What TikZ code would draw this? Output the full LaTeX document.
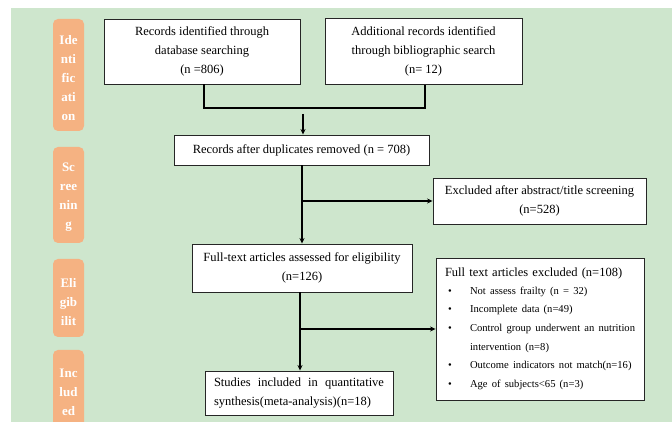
\documentclass[tikz,border=0pt]{standalone}
\usepackage{fontspec}
\setmainfont{Liberation Serif}
\usetikzlibrary{arrows.meta}
\definecolor{bggreen}{RGB}{206,230,205}
\definecolor{phase}{RGB}{245,178,130}
\newcommand{\bulitem}[1]{\mbox{\makebox[25pt][l]{\hspace{3pt}\textbullet}#1}}
\tikzset{
  box/.style={draw=black!85, line width=0.9pt, fill=white, inner sep=0pt,
    font=\fontsize{12.5}{18.8}\selectfont, align=center},
  phasebox/.style={fill=phase, rounded corners=5pt},
  phasetext/.style={text=white, font=\bfseries\fontsize{13}{19}\selectfont, align=center, inner sep=0pt},
  conn/.style={line width=1.1pt, black},
  arr/.style={conn, -{Stealth[length=5.5pt,width=5pt]}}
}
\begin{document}
\begin{tikzpicture}[x=1pt,y=1pt]
\useasboundingbox (0,0) rectangle (672,422);
\fill[white] (0,0) rectangle (672,422);
\fill[bggreen] (11,0) rectangle (672,414);
% phase labels
\begin{scope}
\clip (0,0) rectangle (672,422);
\fill[phasebox] (53,291) rectangle (84,403);
\fill[phasebox] (53,179) rectangle (84,275);
\fill[phasebox] (53,85) rectangle (84,163);
\fill[phasebox] (53,-10) rectangle (84,72);
\end{scope}
\node[phasetext] (p1) at (68.5,344) {Ide\\nti\\fic\\ati\\on};
\node[phasetext] (p2) at (68.5,225) {Sc\\ree\\nin\\g};
\node[phasetext] (p3) at (68.5,120) {Eli\\gib\\ilit};
\node[phasetext] (p4) at (68.5,30) {Inc\\lud\\ed};
% boxes
\node[box, minimum width=196pt, minimum height=65pt] (b1) at (202,370.5)
  {Records identified through\\database searching\\(n =806)};
\node[box, minimum width=197pt, minimum height=66pt] (b2) at (423.5,370.5)
  {Additional records identified\\through bibliographic search\\(n= 12)};
\node[box, minimum width=255pt, minimum height=30pt] (b3) at (301.5,272)
  {Records after duplicates removed (n = 708)};
\node[box, minimum width=213pt, minimum height=46pt] (b4) at (539.5,221)
  {Excluded after abstract/title screening\\(n=528)};
\node[box, minimum width=220pt, minimum height=48pt] (b5) at (302,154)
  {Full-text articles assessed for eligibility\\(n=126)};
\node[box, minimum width=208pt, minimum height=142pt, text width=190pt, align=left] (b6) at (540,93)
  {\mbox{Full text articles excluded (n=108)}\\[-1pt]
   {\fontsize{10.6}{18.6}\selectfont
   \bulitem{Not assess frailty (n = 32)}\\
   \bulitem{Incomplete data (n=49)}\\
   \bulitem{Control group underwent an nutrition}\\
   \mbox{\hspace*{25pt}intervention (n=8)}\\
   \bulitem{Outcome indicators not match(n=16)}\\
   \bulitem{Age of subjects<65 (n=3)}}};
\node[box, minimum width=188pt, minimum height=44pt, text width=170pt, align=justify] (b7) at (299,29)
  {Studies included in quantitative synthesis(meta-analysis)(n=18)};
% connectors
\coordinate (m1) at (204,314);
\coordinate (m2) at (425,314);
\coordinate (a1) at (303,308);
\draw[conn] (b1.south -| m1) -- (m1) -- (m2) -- (b2.south -| m2);
\draw[arr] (a1) -- (a1 |- b3.north);
\coordinate (s1) at (302,0);
\draw[arr] (b3.south -| s1) -- (s1 |- b5.north);
\draw[arr] (s1 |- b4.west) -- (b4.west);
\coordinate (s2) at (300,0);
\draw[arr] (b5.south -| s2) -- (s2 |- b7.north);
\draw[arr] (s2 |- b6.west) -- (b6.west);
\end{tikzpicture}
\end{document}
